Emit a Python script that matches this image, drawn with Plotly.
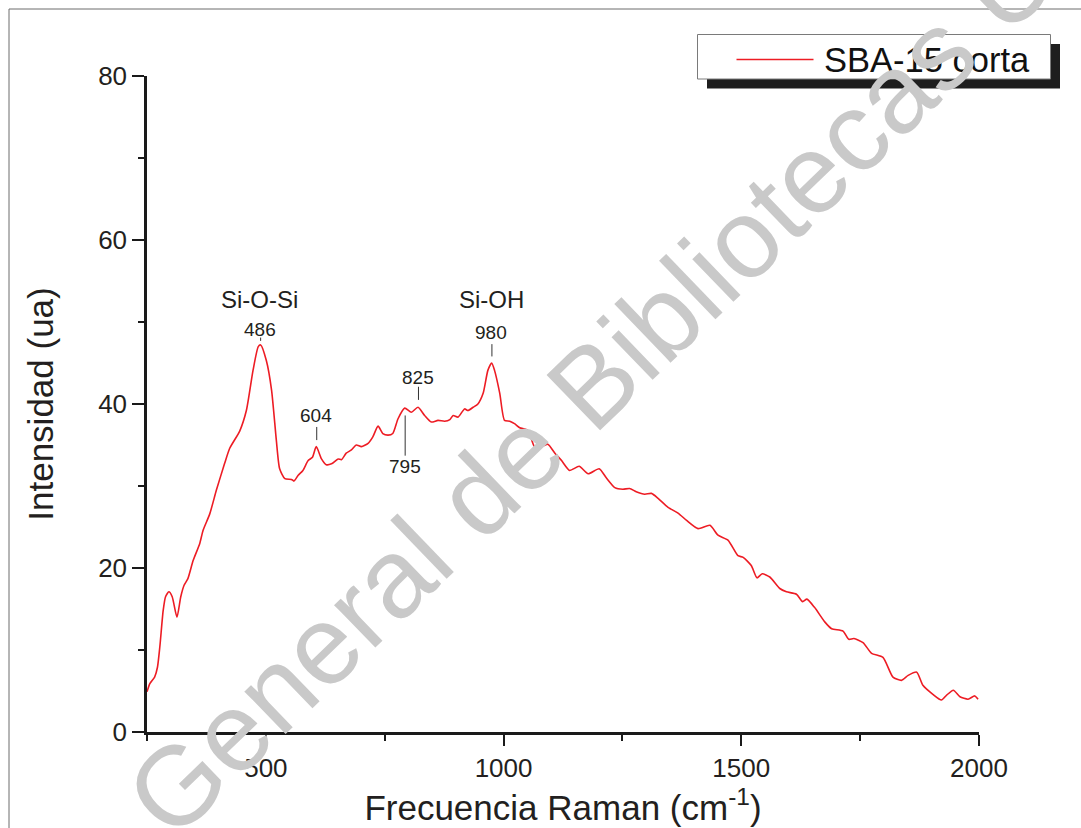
import plotly.graph_objects as go

# ---------------- data ----------------
raman_shift = [250, 256, 266, 272, 277, 284, 289, 296, 303, 313, 321, 328, 336, 347, 361, 368,
               382, 396, 413, 424, 445, 459, 473, 484, 489, 501, 512, 522, 529, 540, 554, 559,
               568, 578, 589, 598, 606, 617, 627, 638, 652, 659, 669, 680, 690, 701, 715, 725,
               736, 746, 757, 767, 778, 792, 806, 820, 834, 848, 862, 876, 887, 894, 904, 918,
               925, 936, 946, 957, 967, 975, 981, 992, 1002, 1013, 1023, 1034, 1051, 1065, 1076,
               1093, 1108, 1122, 1139, 1159, 1178, 1201, 1216, 1234, 1251, 1265, 1279, 1297, 1311,
               1325, 1346, 1367, 1385, 1409, 1434, 1451, 1472, 1493, 1504, 1521, 1533, 1544, 1560,
               1581, 1595, 1616, 1629, 1638, 1654, 1676, 1690, 1714, 1726, 1737, 1756, 1774, 1798,
               1819, 1837, 1851, 1869, 1882, 1903, 1921, 1932, 1946, 1960, 1977, 1991, 1998]
intensity = [4.9, 5.9, 6.7, 7.9, 10.4, 14.8, 16.5, 17.1, 16.5, 14.0, 16.5, 17.9, 18.7, 20.9, 23.0, 24.6,
             26.6, 29.5, 32.7, 34.6, 36.7, 39.2, 44.1, 47.0, 47.2, 45.3, 41.7, 35.6, 32.1, 30.9, 30.8, 30.6,
             31.3, 31.9, 33.1, 33.5, 34.8, 33.3, 32.6, 32.7, 33.3, 33.2, 34.0, 34.4, 35.0, 34.8, 35.2, 36.0,
             37.3, 36.4, 36.2, 36.4, 38.2, 39.5, 39.0, 39.6, 38.6, 37.8, 38.0, 37.9, 38.1, 38.6, 38.4, 39.4,
             39.2, 39.6, 40.0, 41.3, 44.1, 45.0, 44.1, 41.3, 38.0, 37.9, 37.6, 37.1, 36.8, 34.8, 34.7,
             35.1, 34.0, 33.1, 31.9, 32.4, 31.5, 32.1, 31.0, 29.8, 29.6, 29.7, 29.3, 29.0, 29.1,
             28.5, 27.4, 26.7, 25.8, 24.8, 25.2, 24.0, 23.4, 21.5, 21.3, 20.3, 18.8, 19.3, 18.9,
             17.5, 17.1, 16.8, 15.9, 16.2, 15.2, 13.4, 12.6, 12.3, 11.3, 11.4, 10.9, 9.6, 9.1,
             6.7, 6.3, 6.9, 7.3, 5.7, 4.6, 3.9, 4.5, 5.1, 4.3, 4.0, 4.4, 4.0]

series_name = "SBA-15 corta"

group_labels = ["Si-O-Si", "Si-OH"]
group_x = [487, 974]
group_y = [52.8, 52.8]

peak_labels = ["486", "604", "825", "795", "980"]
peak_label_x = [488, 606, 819, 792, 974]
peak_label_y = [49.1, 38.6, 43.2, 32.4, 48.7]
leader_x = [489, 607, 821, 793, 975.5]
leader_y0 = [48.1, 37.2, 42.1, 38.6, 47.3]
leader_y1 = [47.7, 35.6, 40.5, 33.7, 45.8]

x_ticks = [500, 1000, 1500, 2000]
y_ticks = [0, 20, 40, 60, 80]

# ---------------- layout helpers ----------------
W, H = 1081, 828
ML, MR, MT, MB = 147, 102, 76, 96
PW, PH = W - ML - MR, H - MT - MB
FONT = "Liberation Sans, Arial, Helvetica, sans-serif"
TXT = "#231f20"


def px_x(p):
    return (p - ML) / PW


def px_y(p):
    return (H - MB - p) / PH


fig = go.Figure()
fig.add_trace(go.Scatter(
    x=raman_shift, y=intensity, mode="lines", name=series_name, showlegend=False,
    line=dict(color="#ed1c24", width=1.6, shape="spline", smoothing=0.6),
))

shapes = []
# outer frame
shapes.append(dict(type="rect", xref="paper", yref="paper",
                   x0=px_x(9), x1=px_x(1110), y0=px_y(860), y1=px_y(9),
                   line=dict(color="#6d6d6d", width=1), fillcolor="rgba(0,0,0,0)", layer="above"))
# legend shadow + box
shapes.append(dict(type="rect", xref="paper", yref="paper",
                   x0=px_x(707), x1=px_x(1060), y0=px_y(88.5), y1=px_y(44),
                   line=dict(width=0), fillcolor="#1e1e1e", layer="above"))
shapes.append(dict(type="rect", xref="paper", yref="paper",
                   x0=px_x(697.5), x1=px_x(1050.5), y0=px_y(79), y1=px_y(34.5),
                   line=dict(color="#7a7a7a", width=1), fillcolor="white", layer="above"))
shapes.append(dict(type="line", xref="paper", yref="paper",
                   x0=px_x(736.5), x1=px_x(813.5), y0=px_y(59.5), y1=px_y(59.5),
                   line=dict(color="#ed1c24", width=1.5), layer="above"))
# leader lines for peak labels
for lx, a, b in zip(leader_x, leader_y0, leader_y1):
    shapes.append(dict(type="line", xref="x", yref="y", x0=lx, x1=lx, y0=a, y1=b,
                       line=dict(color="#333333", width=1)))

annotations = []
for t, gx, gy in zip(group_labels, group_x, group_y):
    annotations.append(dict(x=gx, y=gy, xref="x", yref="y", text=t, showarrow=False,
                            font=dict(family=FONT, size=24, color=TXT)))
for t, lx, ly in zip(peak_labels, peak_label_x, peak_label_y):
    annotations.append(dict(x=lx, y=ly, xref="x", yref="y", text=t, showarrow=False,
                            font=dict(family=FONT, size=19, color=TXT)))
annotations.append(dict(x=px_x(822), y=px_y(60), xref="paper", yref="paper", text=series_name,
                        showarrow=False, xanchor="left", yanchor="middle",
                        font=dict(family=FONT, size=34.5, color="#111111")))
# watermark
annotations.append(dict(x=px_x(470), y=px_y(502), xref="paper", yref="paper",
                        text="Dirección General de Bibliotecas UAQ", showarrow=False,
                        textangle=-44, xanchor="center", yanchor="middle",
                        font=dict(family=FONT, size=112, color="#c9c9c9")))

fig.update_layout(
    width=W, height=H,
    margin=dict(l=ML, r=MR, t=MT, b=MB, pad=0),
    paper_bgcolor="white", plot_bgcolor="white",
    showlegend=False,
    shapes=shapes, annotations=annotations,
    font=dict(family=FONT, color=TXT),
)
fig.update_xaxes(
    range=[250, 2000], tickvals=x_ticks, ticktext=[str(v) for v in x_ticks],
    showgrid=False, zeroline=False, showline=True, linecolor="#1a1a1a", linewidth=2.5,
    ticks="outside", ticklen=11, tickwidth=2.2, tickcolor="#1a1a1a",
    minor=dict(dtick=250, tick0=250, ticks="outside", ticklen=6, tickwidth=2, tickcolor="#1a1a1a"),
    tickfont=dict(family=FONT, size=26, color=TXT),
    title=dict(text="Frecuencia Raman (cm<sup>-1</sup>)", font=dict(family=FONT, size=35, color=TXT), standoff=2),
)
fig.update_yaxes(
    range=[0, 80], tickvals=y_ticks, ticktext=[str(v) for v in y_ticks],
    showgrid=False, zeroline=False, showline=True, linecolor="#1a1a1a", linewidth=2.5,
    ticks="outside", ticklen=12, tickwidth=2.2, tickcolor="#1a1a1a",
    minor=dict(dtick=10, tick0=0, ticks="outside", ticklen=6, tickwidth=2, tickcolor="#1a1a1a"),
    tickfont=dict(family=FONT, size=26, color=TXT),
    title=dict(text="Intensidad (ua)", font=dict(family=FONT, size=35, color=TXT), standoff=34),
)

fig.write_html("out.html")
